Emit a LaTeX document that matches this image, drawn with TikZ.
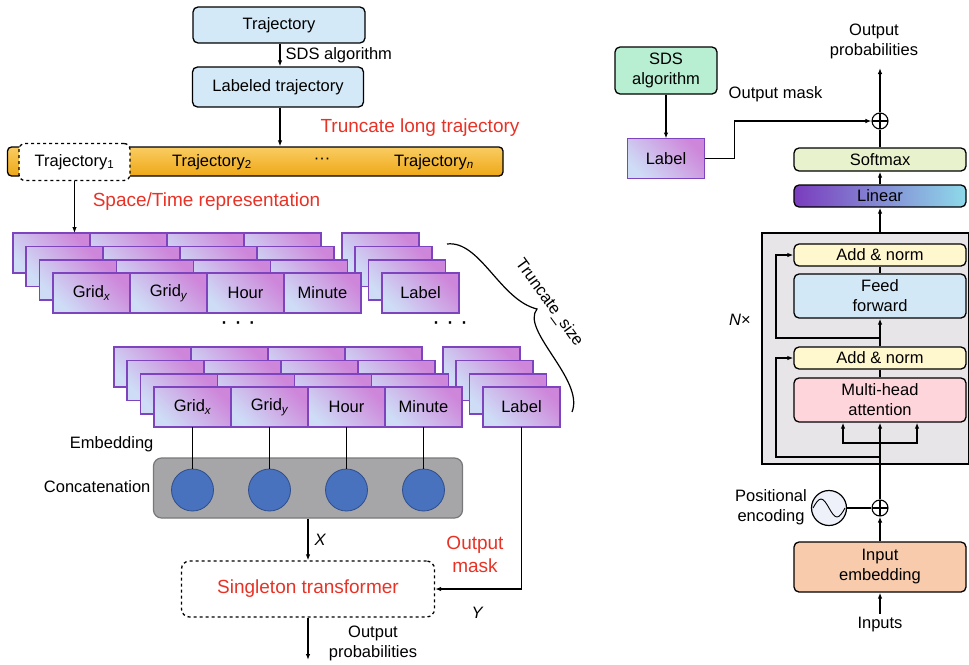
\documentclass[tikz,border=0pt]{standalone}
\usepackage{fontspec}
\setmainfont{Liberation Sans}
\usetikzlibrary{positioning,arrows.meta}

\definecolor{trajfill}{RGB}{211,233,248}
\definecolor{cellline}{RGB}{126,68,190}
\definecolor{cellA}{RGB}{206,220,246}
\definecolor{cellB}{RGB}{206,134,218}
\definecolor{barA}{RGB}{250,204,98}
\definecolor{barB}{RGB}{238,168,22}
\definecolor{redtxt}{RGB}{232,50,38}
\definecolor{concatfill}{RGB}{166,165,168}
\definecolor{concatline}{RGB}{120,120,122}
\definecolor{dotfill}{RGB}{72,113,190}
\definecolor{dotline}{RGB}{46,78,140}
\definecolor{sdsfill}{RGB}{184,238,209}
\definecolor{blockfill}{RGB}{231,229,232}
\definecolor{normfill}{RGB}{255,248,206}
\definecolor{fffill}{RGB}{211,232,247}
\definecolor{mhafill}{RGB}{255,213,220}
\definecolor{embfill}{RGB}{248,203,173}
\definecolor{softfill}{RGB}{232,243,206}
\definecolor{linA}{RGB}{122,60,190}
\definecolor{linB}{RGB}{142,218,234}
\definecolor{pefill}{RGB}{238,240,250}

\tikzset{
  box/.style={draw, line width=1.3pt, rounded corners=5pt, inner sep=0pt, align=center},
  cell/.style={draw=cellline, line width=1.6pt, left color=cellA, right color=cellB,
    shading angle=135, minimum width=77pt, minimum height=40pt, inner sep=0pt,
    outer sep=0pt, anchor=north west},
  redlabel/.style={text=redtxt, font=\fontsize{19}{23}\selectfont, align=center},
  oplus/.style={draw, circle, line width=1.1pt, minimum size=16pt, inner sep=0pt,
    path picture={\draw[line width=1.1pt] (path picture bounding box.north) -- (path picture bounding box.south)
      (path picture bounding box.west) -- (path picture bounding box.east);}},
  emb/.style={draw=dotline, fill=dotfill, circle, minimum size=42pt, inner sep=0pt, line width=0.8pt},
  stackdots/.style={font=\fontsize{24}{24}\selectfont},
}

\begin{document}
\begin{tikzpicture}[x=1pt, y=-1pt, line width=1.2pt, >={Latex[length=6pt,width=4.5pt]},
    font=\fontsize{16.5}{20}\selectfont]
    \useasboundingbox (0,0) rectangle (969,664);

    % Define points
    \coordinate (brtop) at (447,244);
    \coordinate (brmid) at (537,309);
    \coordinate (brbot) at (572,412);
    \coordinate (stout) at (308,660);
    \coordinate (outtop) at (880,68);
    \coordinate (res1) at (880,338);
    \coordinate (split) at (880,443);
    \coordinate (res2) at (880,457);

    % Trajectory preparation
    \node[box, fill=trajfill, minimum width=172pt, minimum height=36pt] (traj) at (279,25) {Trajectory};
    \node[box, fill=trajfill, minimum width=171pt, minimum height=40pt] (ltraj) at (278,87) {Labeled trajectory};
    \draw[->] (traj.south -| 280,0) -- node[right, inner sep=5pt] {SDS algorithm} (ltraj.north -| 280,0);

    \node[box, top color=barA, bottom color=barB, rounded corners=4pt,
      minimum width=495.5pt, minimum height=29pt] (bar) at (255.25,161.5) {};
    \draw[->] (ltraj.south -| 280,0) -- (bar.north -| 280,0);
    \node[redlabel] (trunc) at (420,128) {Truncate long trajectory};

    \node[box, fill=white, dashed, rounded corners=6pt, minimum width=111pt, minimum height=37pt] (t1) at (74.5,162) {Trajectory\textsubscript{1}};
    \node (t2) at (212,162) {Trajectory\textsubscript{2}};
    \node (bdots) at (322,161) {···};
    \node (tn) at (434,162) {Trajectory\textsubscript{\itshape n}};
    \node[redlabel] (strep) at (206.5,202) {Space/Time representation};

    % Stacked feature cells
    \foreach \gx/\gy/\g in {53/273/1, 154/387/2} {
      \foreach \k in {3,2,1} {
        \foreach \i in {0,1,2,3}
          \node[cell] (bk-\g-\k-\i) at ({\gx-13.4*\k+77*\i},{\gy-13.3*\k}) {};
        \node[cell] (bk-\g-\k-4) at ({\gx-13.4*\k+329},{\gy-13.3*\k}) {};
      }
      \node[cell] (gx\g) at (\gx,\gy) {Grid\textsubscript{\itshape x}};
      \node[cell, right=0pt of gx\g] (gy\g) {Grid\textsubscript{\itshape y}};
      \node[cell, right=0pt of gy\g] (hr\g) {Hour};
      \node[cell, right=0pt of hr\g] (mn\g) {Minute};
      \node[cell, right=21pt of mn\g] (lb\g) {Label};
    }
    \draw[->] (t1.south) -- (t1.south |- bk-1-3-0.north);

    \node[stackdots] (sd1) at (238,326) {·\hspace{6pt}·\hspace{6pt}·};
    \node[stackdots] (sd2) at (450,326) {·\hspace{6pt}·\hspace{6pt}·};

    % Truncate size brace
    \draw (brtop) .. controls (480,240) and (500,300) .. (brmid)
      .. controls (520,330) and (585,380) .. (brbot);
    \node[rotate=-54] (tsize) at (549,303) {Truncate\_size};

    % Embedding and concatenation
    \node[anchor=east, inner sep=0pt] (embl) at (154,444) {Embedding};
    \node[anchor=east, inner sep=0pt] (catl) at (151,487) {Concatenation};
    \node[draw=concatline, fill=concatfill, rounded corners=8pt, minimum width=309pt,
      minimum height=60pt] (concat) at (308,488) {};
    \node[emb] (e1) at (gx2 |- 0,490) {};
    \node[emb] (e2) at (gy2 |- 0,490) {};
    \node[emb] (e3) at (hr2 |- 0,490) {};
    \node[emb] (e4) at (mn2 |- 0,490) {};
    \draw (gx2) -- (e1);
    \draw (gy2) -- (e2);
    \draw (hr2) -- (e3);
    \draw (mn2) -- (e4);

    % Singleton transformer
    \node[box, dashed, rounded corners=8pt, minimum width=253pt, minimum height=56pt,
      text=redtxt, font=\fontsize{19}{23}\selectfont] (st) at (308,589) {Singleton transformer};
    \draw[->] (concat) -- node[right, inner sep=6pt] {\itshape X} (st);
    \draw[->] (lb2.south) |- (st.east);
    \node[redlabel] (omask) at (475,554) {Output\\mask};
    \node (ylab) at (477,613) {\itshape Y};
    \draw[->] (st) -- (stout);
    \node[align=center] (oprob1) at (373,643) {Output\\probabilities};

    % Right: transformer
    \node[box, fill=sdsfill, minimum width=102pt, minimum height=47pt] (sds) at (666,70.5) {SDS\\algorithm};
    \node[cell, anchor=center] (lbl) at (666,158.5) {Label};
    \draw[->] (sds) -- (lbl);
    \node[oplus] (op2) at (880,121) {};
    \draw[->] (lbl.east) -- ++(30,0) |- (op2.west);
    \node (omask2) at (775.5,94) {Output mask};
    \draw[->] (op2) -- (outtop);
    \node[align=center] (oprob2) at (874,41.5) {Output\\probabilities};

    \node[box, fill=softfill, minimum width=172pt, minimum height=23pt] (soft) at (880,159.5) {Softmax};
    \draw (soft) -- (op2);
    \node[box, left color=linA, right color=linB, minimum width=172pt, minimum height=22pt] (lin) at (880,196) {Linear};
    \draw[->] (lin) -- (soft);

    \node[draw, fill=blockfill, inner sep=0pt, minimum width=206.5pt, minimum height=231pt] (block) at (865.25,348.5) {};
    \draw[->] (lin.south |- block.north) -- (lin);
    \node (nx) at (740,320) {{\itshape N}×};

    \node[box, fill=normfill, minimum width=172pt, minimum height=22pt] (addtop) at (880,255) {Add \& norm};
    \node[box, fill=fffill, minimum width=172pt, minimum height=44pt] (ff) at (880,296) {Feed\\forward};
    \draw (addtop) -- (ff);
    \node[box, fill=normfill, minimum width=172pt, minimum height=22pt] (addbot) at (880,358) {Add \& norm};
    \draw[->] (addbot) -- (ff);
    \draw[->] (res1) -- ++(-104,0) |- (addtop.west);
    \node[box, fill=mhafill, minimum width=172pt, minimum height=44pt] (mha) at (880,400) {Multi-head\\attention};
    \draw (addbot) -- (mha);
    \draw[->] (split) -- (mha);
    \draw[->] (split) -| ([xshift=-37pt]mha.south);
    \draw[->] (split) -| ([xshift=37pt]mha.south);
    \draw[->] (res2) -- ++(-104,0) |- (addbot.west);

    % Input side
    \node[oplus] (op1) at (880,508) {};
    \draw (op1) -- (split);
    \node[draw, circle, fill=pefill, minimum size=35pt, inner sep=0pt] (pe) at (829,508) {};
    \draw[line width=0.9pt] (813,508) sin (821,499) cos (829,508) sin (837,517) cos (845,508);
    \draw (pe) -- (op1);
    \node[align=center] (pel) at (771,507) {Positional\\encoding};
    \node[box, fill=embfill, minimum width=172pt, minimum height=50pt] (inemb) at (880,567) {Input\\embedding};
    \draw[->] (inemb) -- (op1);
    \node (inp) at (880,625) {Inputs};
    \draw[->] (inp) -- (inemb);
\end{tikzpicture}
\end{document}
